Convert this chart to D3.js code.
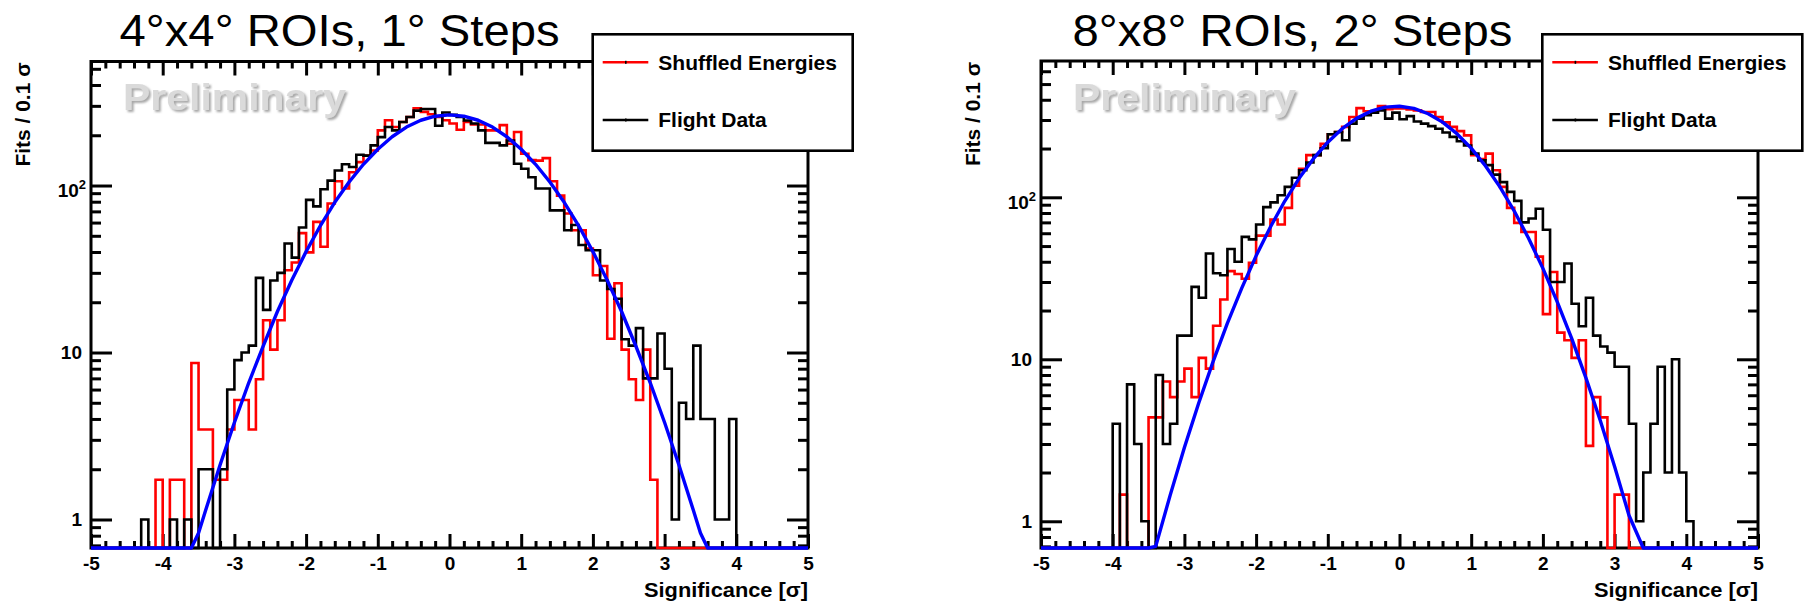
<!DOCTYPE html>
<html>
<head>
<meta charset="utf-8">
<script src="https://cdn.jsdelivr.net/npm/d3@7"></script>
<style>
  html, body { margin: 0; padding: 0; background: #fff; }
  svg { display: block; }
  text { font-family: "Liberation Sans", Arial, Helvetica, sans-serif; }
</style>
</head>
<body>
<svg id="chart" width="1804" height="605"></svg>
<script>
// ---- Data -----------------------------------------------------------------
// Histograms: 100 bins of 0.1 sigma from -5 to +5 (values per bin, in order).
const sigmaRange = [-5, 5];
const binWidth = 0.1;

const panelTitles = ["4°x4° ROIs, 1° Steps", "8°x8° ROIs, 2° Steps"];
const seriesNames = ["Shuffled Energies", "Flight Data"];
const xAxisTitle = "Significance [σ]";
const yAxisTitle = "Fits / 0.1 σ";
const watermark = "Preliminary";

const xTickValues = [-5, -4, -3, -2, -1, 0, 1, 2, 3, 4, 5];
const xTickLabels = ["-5", "-4", "-3", "-2", "-1", "0", "1", "2", "3", "4", "5"];
const yTickValues = [1, 10, 100];
const yTickLabels = ["1", "10", "10^2"];

// vertical ranges of the two log axes
const yRangeROI4 = [0.675, 553];
const yRangeROI8 = [0.684, 694];

// 4x4 deg ROIs
const shuffledROI4 = [
  0, 0, 0, 0, 0, 0, 0, 0, 0, 1.73,
  0, 1.73, 1.73, 0, 8.65, 3.46, 3.46, 1.73, 1.73, 3.46,
  5.19, 5.19, 3.46, 6.92, 15.6, 10.4, 15.6, 31.1, 34.6, 51.9,
  39.8, 60.6, 43, 78, 106, 96, 120, 138, 151, 162,
  214, 246, 224, 240, 257, 290, 276, 267, 257, 246,
  235, 216, 240, 232, 232, 214, 214, 230, 178, 209,
  155, 142, 141, 146, 106, 87, 68, 54, 54, 42,
  29, 33, 12.1, 26, 10.4, 6.92, 5.19, 10.4, 1.73, 0,
  0, 0, 0, 0, 0, 0, 0, 0, 0, 0,
  0, 0, 0, 0, 0, 0, 0, 0, 0, 0
];
const flightROI4 = [
  0, 0, 0, 0, 0, 0, 0, 1, 0, 0,
  0, 1, 0, 1, 0, 2, 2, 0, 2, 6,
  9, 10, 11, 28, 18, 27, 30, 45, 37, 56,
  82, 75, 95, 107, 123, 134, 129, 153, 151, 174,
  195, 224, 214, 240, 257, 281, 287, 287, 228, 274,
  265, 257, 245, 235, 214, 180, 180, 174, 186, 135,
  126, 112, 96, 96, 71, 71, 54, 58, 44, 41,
  41, 27, 24, 21, 12, 11, 14, 7, 7, 13,
  8, 1, 5, 4, 11, 4, 4, 1, 1, 4,
  0, 0, 0, 0, 0, 0, 0, 0, 0, 0
];
// Gaussian fit curve, [sigma, fits per bin] (0 = below the axis floor)
const fitROI4 = [
  [-5, 0], [-3.6, 0.59], [-3.5, 0.83], [-3.4, 1.14], [-3.2, 2.12], [-3.0, 3.81],
  [-2.8, 6.59], [-2.6, 10.9], [-2.4, 17.6], [-2.2, 27.1], [-2.0, 40.2], [-1.8, 57.6],
  [-1.6, 79.3], [-1.4, 105], [-1.2, 134], [-1.0, 165], [-0.8, 196], [-0.6, 224],
  [-0.4, 246], [-0.2, 260], [0, 265], [0.2, 260], [0.4, 246], [0.6, 224],
  [0.8, 196], [1.0, 165], [1.2, 134], [1.4, 105], [1.6, 79.3], [1.8, 57.6],
  [2.0, 40.2], [2.2, 27.1], [2.4, 17.6], [2.6, 10.9], [2.8, 6.59], [3.0, 3.81],
  [3.2, 2.12], [3.4, 1.14], [3.5, 0.83], [3.6, 0.59], [5, 0]
];

// 8x8 deg ROIs
const shuffledROI8 = [
  0, 0, 0, 0, 0, 0, 0, 0, 0, 0,
  0, 1.46, 0, 0, 0, 4.38, 4.38, 7.3, 5.84, 7.3,
  8.76, 5.84, 10.2, 8.76, 16.1, 23.4, 35, 33.6, 31.4, 39.4,
  58, 58, 73, 68, 86, 118, 150, 182, 182, 214,
  245, 253, 272, 313, 355, 340, 340, 366, 350, 353,
  353, 349, 344, 336, 336, 313, 290, 272, 256, 241,
  182, 172, 186, 147, 116, 86, 69.5, 61, 61, 43,
  19, 34.6, 14.6, 13.1, 10.2, 13.1, 2.92, 5.84, 4.38, 0,
  1.46, 1.46, 0, 0, 0, 0, 0, 0, 0, 0,
  0, 0, 0, 0, 0, 0, 0, 0, 0, 0
];
const flightROI8 = [
  0, 0, 0, 0, 0, 0, 0, 0, 0, 0,
  4, 0, 7, 3, 1, 0, 8, 3, 4, 14,
  14, 28, 24, 45, 34, 33, 48, 40, 57, 55,
  68, 87, 93, 103, 116, 132, 147, 164, 182, 201,
  245, 253, 225, 285, 306, 321, 333, 344, 306, 333,
  303, 317, 294, 285, 275, 265, 251, 236, 222, 209,
  186, 169, 158, 138, 124, 108, 95, 70, 74, 85,
  63, 30, 30, 39, 22, 16, 24, 14, 12, 11,
  9, 9, 4, 1, 2, 4, 9, 2, 10, 2,
  1, 0, 0, 0, 0, 0, 0, 0, 0, 0
];
const fitROI8 = [
  [-5, 0], [-3.5, 0.48], [-3.4, 0.70], [-3.2, 1.44], [-3.0, 2.85], [-2.8, 5.37],
  [-2.6, 9.67], [-2.4, 16.7], [-2.2, 27.5], [-2.0, 43.5], [-1.8, 65.6], [-1.6, 94.8],
  [-1.4, 131], [-1.2, 173], [-1.0, 219], [-0.8, 265], [-0.6, 307], [-0.4, 340],
  [-0.2, 360], [0, 365], [0.2, 354], [0.4, 328], [0.6, 291], [0.8, 247],
  [1.0, 201], [1.2, 156], [1.4, 116], [1.6, 82.3], [1.8, 55.9], [2.0, 36.4],
  [2.2, 22.6], [2.4, 13.5], [2.6, 7.68], [2.8, 4.19], [3.0, 2.18], [3.2, 1.09],
  [3.4, 0.52], [5, 0]
];

// ---- Layout ---------------------------------------------------------------
const FONT = '"Liberation Sans", Arial, Helvetica, sans-serif';
const panels = [
  { title: panelTitles[0], shuffled: shuffledROI4, flight: flightROI4, fit: fitROI4,
    yDomain: yRangeROI4, x0: 91, x1: 808, yTop: 61.5, yBottom: 548,
    titleX: 119.6, legendX: 592.7 },
  { title: panelTitles[1], shuffled: shuffledROI8, flight: flightROI8, fit: fitROI8,
    yDomain: yRangeROI8, x0: 1041, x1: 1758, yTop: 61, yBottom: 548,
    titleX: 1072.5, legendX: 1542.3 }
];

const svg = d3.select("#chart");

// soft drop shadow for the watermark
const defs = svg.append("defs");
const f = defs.append("filter").attr("id", "wmShadow")
  .attr("x", "-5%").attr("y", "-20%").attr("width", "115%").attr("height", "150%");
f.append("feGaussianBlur").attr("in", "SourceAlpha").attr("stdDeviation", 1.3).attr("result", "b");
f.append("feOffset").attr("in", "b").attr("dx", 2.2).attr("dy", 2.2).attr("result", "o");
f.append("feFlood").attr("flood-color", "#8a8a8a").attr("flood-opacity", 0.75);
f.append("feComposite").attr("in2", "o").attr("operator", "in").attr("result", "s");
const fm = f.append("feMerge");
fm.append("feMergeNode").attr("in", "s");
fm.append("feMergeNode").attr("in", "SourceGraphic");

function styleAxis(sel, fontSize) {
  sel.select(".domain").remove();
  sel.selectAll("line").attr("stroke", "#000").attr("stroke-width", 3);
  sel.selectAll("text")
    .attr("fill", "#000")
    .attr("font-family", FONT)
    .attr("font-weight", "bold")
    .attr("font-size", fontSize);
  sel.attr("font-family", null).attr("font-size", null);
}

function drawPanel(p) {
  const g = svg.append("g");
  const x = d3.scaleLinear().domain(sigmaRange).range([p.x0, p.x1]);
  const y = d3.scaleLog().domain(p.yDomain).range([p.yBottom, p.yTop]);
  const yc = v => y(Math.max(v, p.yDomain[0]));

  // minor tick positions
  const xMinor = d3.range(-50, 51, 2).map(d => d / 10).filter(d => Math.abs(d - Math.round(d)) > 1e-6);
  const yMinor = [];
  [0.1, 1, 10, 100].forEach(dec => {
    for (let k = 2; k <= 9; k++) {
      const v = dec * k;
      if (v >= p.yDomain[0] && v <= p.yDomain[1]) yMinor.push(v);
    }
  });

  // axes (ticks point into the frame on all four sides)
  g.append("g").attr("transform", `translate(0,${p.yBottom})`)
    .call(d3.axisBottom(x).tickValues(xTickValues).tickSize(-14).tickSizeOuter(0)
      .tickPadding(8.6).tickFormat((d, i) => xTickLabels[i]))
    .call(s => styleAxis(s, 19));
  g.append("g").attr("transform", `translate(0,${p.yBottom})`)
    .call(d3.axisBottom(x).tickValues(xMinor).tickSize(-7).tickSizeOuter(0).tickFormat(""))
    .call(s => styleAxis(s, 19));
  g.append("g").attr("transform", `translate(0,${p.yTop})`)
    .call(d3.axisTop(x).tickValues(xTickValues).tickSize(-14).tickSizeOuter(0).tickFormat(""))
    .call(s => styleAxis(s, 19));
  g.append("g").attr("transform", `translate(0,${p.yTop})`)
    .call(d3.axisTop(x).tickValues(xMinor).tickSize(-7).tickSizeOuter(0).tickFormat(""))
    .call(s => styleAxis(s, 19));

  const yAx = g.append("g").attr("transform", `translate(${p.x0},0)`)
    .call(d3.axisLeft(y).tickValues(yTickValues).tickSize(-21).tickSizeOuter(0)
      .tickPadding(9).tickFormat((d, i) => yTickLabels[i]))
    .call(s => styleAxis(s, 19));
  yAx.selectAll(".tick text").each(function (d, i) {
    const s = yTickLabels[i];
    if (s.indexOf("^") >= 0) {
      const [base, ex] = s.split("^");
      const t = d3.select(this).text(base).attr("x", -5).attr("dy", "0.6em");
      t.append("tspan").attr("dy", -8).attr("font-size", 13).text(ex);
    }
  });
  g.append("g").attr("transform", `translate(${p.x0},0)`)
    .call(d3.axisLeft(y).tickValues(yMinor).tickSize(-10).tickSizeOuter(0).tickFormat(""))
    .call(s => styleAxis(s, 19));
  g.append("g").attr("transform", `translate(${p.x1},0)`)
    .call(d3.axisRight(y).tickValues(yTickValues).tickSize(-21).tickSizeOuter(0).tickFormat(""))
    .call(s => styleAxis(s, 19));
  g.append("g").attr("transform", `translate(${p.x1},0)`)
    .call(d3.axisRight(y).tickValues(yMinor).tickSize(-10).tickSizeOuter(0).tickFormat(""))
    .call(s => styleAxis(s, 19));

  // frame
  g.append("rect")
    .attr("x", p.x0).attr("y", p.yTop)
    .attr("width", p.x1 - p.x0).attr("height", p.yBottom - p.yTop)
    .attr("fill", "none").attr("stroke", "#000").attr("stroke-width", 3);

  // histograms as step outlines
  const stepLine = d3.line()
    .x(d => x(d[0]))
    .y(d => yc(d[1]))
    .curve(d3.curveStepAfter);
  const toSteps = vals => {
    const pts = vals.map((v, i) => [sigmaRange[0] + i * binWidth, v]);
    pts.push([sigmaRange[1], vals[vals.length - 1]]);
    return pts;
  };
  g.append("path").datum(toSteps(p.shuffled))
    .attr("d", stepLine).attr("fill", "none")
    .attr("stroke", "#ff0000").attr("stroke-width", 2.6).attr("stroke-linejoin", "miter");
  g.append("path").datum(toSteps(p.flight))
    .attr("d", stepLine).attr("fill", "none")
    .attr("stroke", "#000").attr("stroke-width", 2.6).attr("stroke-linejoin", "miter");

  // Gaussian fit
  const fitLine = d3.line()
    .x(d => x(d[0]))
    .y(d => yc(d[1]));
  g.append("path").datum(p.fit)
    .attr("d", fitLine).attr("fill", "none")
    .attr("stroke", "#0000ff").attr("stroke-width", 3.4).attr("stroke-linejoin", "round");

  // watermark
  g.append("text")
    .attr("x", p.x0 + 32).attr("y", 110)
    .attr("font-size", 36).attr("font-weight", "bold")
    .attr("fill", "#dadada")
    .attr("textLength", 223).attr("lengthAdjust", "spacingAndGlyphs")
    .attr("filter", "url(#wmShadow)")
    .text(watermark);

  // axis titles
  g.append("text")
    .attr("transform", `translate(${p.x0 - 61.5},${p.yTop + 1}) rotate(-90)`)
    .attr("text-anchor", "end")
    .attr("font-size", 19.5).attr("font-weight", "bold")
    .attr("textLength", 104).attr("lengthAdjust", "spacingAndGlyphs")
    .text(yAxisTitle);
  g.append("text")
    .attr("x", p.x1).attr("y", 597)
    .attr("text-anchor", "end")
    .attr("font-size", 21).attr("font-weight", "bold")
    .attr("textLength", 164).attr("lengthAdjust", "spacingAndGlyphs")
    .text(xAxisTitle);

  // title
  g.append("text")
    .attr("x", p.titleX).attr("y", 46)
    .attr("font-size", 44)
    .attr("textLength", 440).attr("lengthAdjust", "spacingAndGlyphs")
    .text(p.title);

  // legend
  const lg = g.append("g");
  lg.append("rect")
    .attr("x", p.legendX).attr("y", 34.3)
    .attr("width", 260).attr("height", 116.4)
    .attr("fill", "#fff").attr("stroke", "#000").attr("stroke-width", 2.6);
  const entries = [
    { name: seriesNames[0], color: "#ff0000", y: 62.3 },
    { name: seriesNames[1], color: "#000", y: 120 }
  ];
  entries.forEach(e => {
    lg.append("line")
      .attr("x1", p.legendX + 10).attr("x2", p.legendX + 55.6)
      .attr("y1", e.y).attr("y2", e.y)
      .attr("stroke", e.color).attr("stroke-width", 2.6);
    lg.append("rect")
      .attr("x", p.legendX + 32.3).attr("y", e.y - 1.5)
      .attr("width", 1.6).attr("height", 3).attr("fill", "#000");
    lg.append("text")
      .attr("x", p.legendX + 65.6).attr("y", e.y)
      .attr("dy", "0.35em")
      .attr("font-size", 21).attr("font-weight", "bold")
      .text(e.name);
  });
}

panels.forEach(drawPanel);
</script>
</body>
</html>
